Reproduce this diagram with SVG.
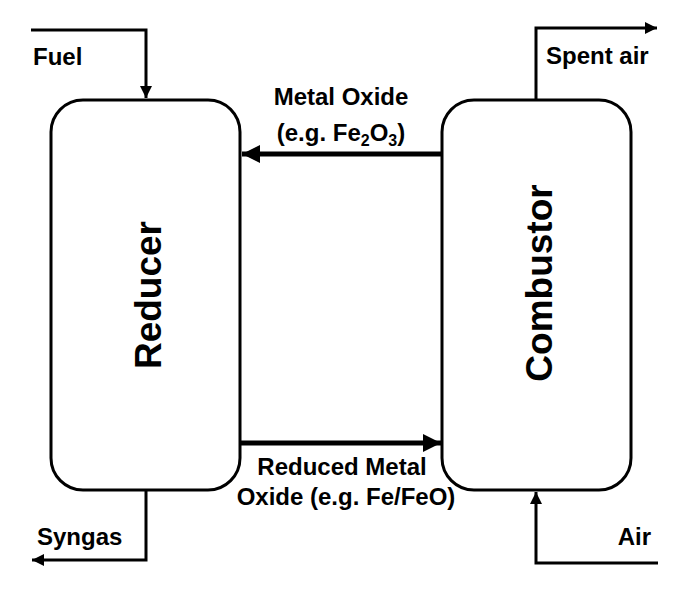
<svg xmlns="http://www.w3.org/2000/svg" width="696" height="600" viewBox="0 0 696 600">
<style>
  .box { fill: #fff; stroke: #000; stroke-width: 3; }
  .thin { fill: none; stroke: #000; stroke-width: 3; }
  .thick { fill: none; stroke: #000; stroke-width: 5; }
  .lbl { font-family: "Liberation Sans", Arial, sans-serif; font-weight: bold; font-size: 24px; fill: #000; }
  .big { font-family: "Liberation Sans", Arial, sans-serif; font-weight: bold; font-size: 37px; fill: #000; }
</style>
<defs>
  <marker id="ah" viewBox="0 0 10 10" refX="10" refY="5" markerWidth="4" markerHeight="4" orient="auto" markerUnits="strokeWidth">
    <path d="M0,0 L10,5 L0,10 z" fill="#000"/>
  </marker>
  <marker id="ahb" viewBox="0 0 10 10" refX="10" refY="5" markerWidth="4" markerHeight="3.6" orient="auto" markerUnits="strokeWidth">
    <path d="M0,0 L10,5 L0,10 z" fill="#000"/>
  </marker>
</defs>
<g id="reducer">
  <rect class="box" x="51" y="100" width="189" height="390" rx="32" ry="32"/>
  <text class="big" transform="translate(161,295) rotate(-90)" text-anchor="middle">Reducer</text>
</g>
<g id="combustor">
  <rect class="box" x="442" y="100" width="189" height="390" rx="32" ry="32"/>
  <text class="big" transform="translate(552,283) rotate(-90)" text-anchor="middle">Combustor</text>
</g>
<g id="connectors">
  <path class="thin" d="M31,30 H146 V98" marker-end="url(#ah)"/>
  <path class="thin" d="M536,100 V28 H657" marker-end="url(#ah)"/>
  <path class="thin" d="M146,490 V560 H32" marker-end="url(#ah)"/>
  <path class="thin" d="M658,563 H536 V492" marker-end="url(#ah)"/>
  <path class="thick" d="M442,154 H242" marker-end="url(#ahb)"/>
  <path class="thick" d="M240,443 H441" marker-end="url(#ahb)"/>
</g>
<g id="labels">
  <text class="lbl" x="33" y="65">Fuel</text>
  <text class="lbl" x="546" y="64">Spent air</text>
  <text class="lbl" x="37" y="545">Syngas</text>
  <text class="lbl" x="651" y="545" text-anchor="end">Air</text>
  <text class="lbl" x="341" y="105" text-anchor="middle">Metal Oxide</text>
  <text class="lbl" x="341" y="141" text-anchor="middle">(e.g. Fe<tspan font-size="16" dy="5">2</tspan><tspan dy="-5">O</tspan><tspan font-size="16" dy="5">3</tspan><tspan dy="-5">)</tspan></text>
  <text class="lbl" x="342" y="475" text-anchor="middle">Reduced Metal</text>
  <text class="lbl" x="346" y="505" text-anchor="middle">Oxide (e.g. Fe/FeO)</text>
</g>
</svg>
